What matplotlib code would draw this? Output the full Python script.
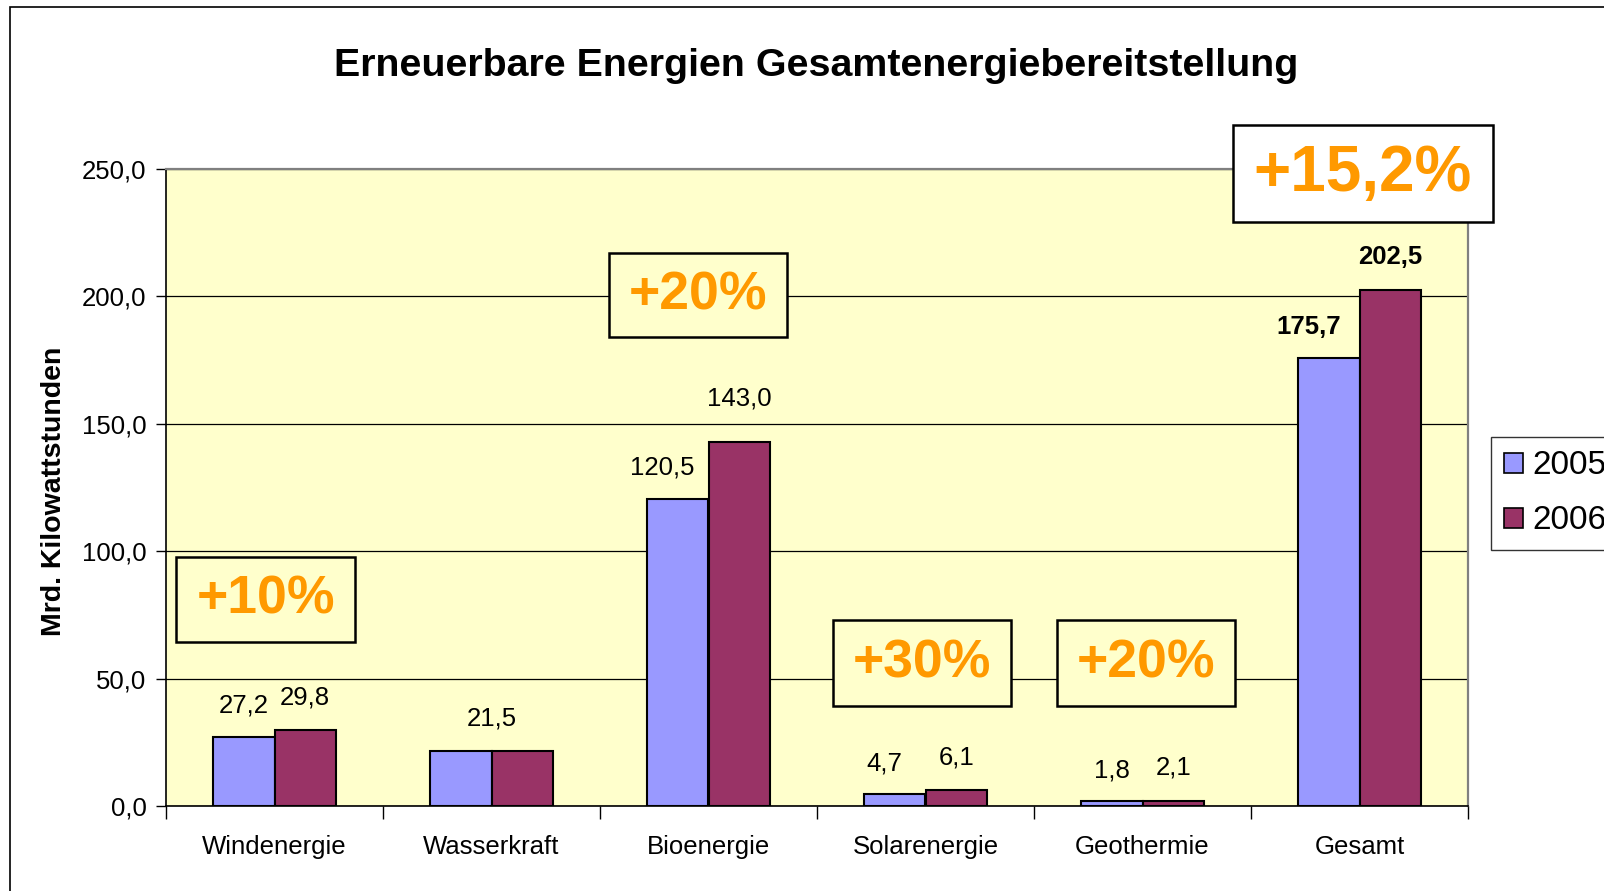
import numpy as np
import matplotlib
matplotlib.use("Agg")
import matplotlib.pyplot as plt
from matplotlib.patches import Rectangle, Patch
from matplotlib.ticker import FuncFormatter, FixedLocator

plt.rcParams['font.family'] = ['Liberation Sans', 'DejaVu Sans']

# data
categories = ['Windenergie', 'Wasserkraft', 'Bioenergie', 'Solarenergie', 'Geothermie', 'Gesamt']
years = ['2005', '2006']
values_2005 = [27.2, 21.5, 120.5, 4.7, 1.8, 175.7]
values_2006 = [29.8, 21.5, 143.0, 6.1, 2.1, 202.5]
growth_labels = ['+10%', '+20%', '+30%', '+20%', '+15,2%']
growth_categories = ['Windenergie', 'Bioenergie', 'Solarenergie', 'Geothermie', 'Gesamt']

title = 'Erneuerbare Energien Gesamtenergiebereitstellung'
ylabel = 'Mrd. Kilowattstunden'

c2005 = '#9999FF'
c2006 = '#993366'
orange = '#FF9900'
plot_bg = '#FFFFCC'


def de_fmt(v, pos=None):
    return f'{v:.1f}'.replace('.', ',')


W, H = 1604, 891
fig = plt.figure(figsize=(W / 100, H / 100), dpi=100)
fig.patch.set_facecolor('white')

# outer chart border (only top/left visible, rest cut off)
fig.patches.append(Rectangle((10 / W, -0.2), 1.5, 1 - 7 / H + 0.2, transform=fig.transFigure,
                             fill=False, edgecolor='black', linewidth=1.2))

ax = fig.add_axes([166 / W, 1 - 806 / H, 1302 / W, 637 / H])
ax.set_facecolor(plot_bg)

x = np.arange(len(categories)) + 0.5
w = 0.283
bars1 = ax.bar(x - w / 2, values_2005, w, color=c2005, edgecolor='black', linewidth=1.5, zorder=3)
bars2 = ax.bar(x + w / 2, values_2006, w, color=c2006, edgecolor='black', linewidth=1.5, zorder=3)

ax.set_xlim(0, len(categories))
ax.set_ylim(0, 250)

# value labels (small manual nudges like in the original)
nudge_2005 = {'Bioenergie': -16, 'Solarenergie': -10, 'Gesamt': -20}
nudge_2006_y = {'Bioenergie': 10}
for i, cat in enumerate(categories):
    weight = 'bold' if cat == 'Gesamt' else 'normal'
    v1, v2 = values_2005[i], values_2006[i]
    if v1 == v2:
        ax.annotate(de_fmt(v1), (x[i], v1), xytext=(0, 33), textcoords='offset pixels',
                    ha='center', va='center', fontsize=18.5, fontweight=weight, zorder=6)
        continue
    ax.annotate(de_fmt(v1), (x[i] - w / 2, v1), xytext=(nudge_2005.get(cat, 0), 31),
                textcoords='offset pixels', ha='center', va='center', fontsize=18.5,
                fontweight=weight, zorder=6)
    ax.annotate(de_fmt(v2), (x[i] + w / 2, v2), xytext=(0, 33 + nudge_2006_y.get(cat, 0)),
                textcoords='offset pixels', ha='center', va='center', fontsize=18.5,
                fontweight=weight, zorder=6)

# y axis
ax.set_yticks(np.arange(0, 251, 50))
ax.yaxis.set_major_formatter(FuncFormatter(de_fmt))
ax.tick_params(axis='y', direction='out', length=7, width=1, pad=7, labelsize=18.5)
ax.yaxis.grid(True, color='black', linewidth=0.9)
ax.set_axisbelow(True)

# x axis: ticks at boundaries, labels at centers
ax.xaxis.set_major_locator(FixedLocator(np.arange(0, len(categories) + 1)))
ax.xaxis.set_major_formatter(plt.NullFormatter())
ax.xaxis.set_minor_locator(FixedLocator(x))
ax.set_xticklabels(categories, minor=True)
ax.tick_params(axis='x', which='major', direction='out', length=9, width=1)
ax.tick_params(axis='x', which='minor', length=0, pad=21, labelsize=18.5)

for s in ['left', 'bottom']:
    ax.spines[s].set_color('black')
    ax.spines[s].set_linewidth(1.2)
for s in ['top', 'right']:
    ax.spines[s].set_color('#808080')
    ax.spines[s].set_linewidth(1.6)

# growth boxes: (x center, y center, width, height, fontsize, fill) in data units
box_layout = [
    (0.459, 81.0, 0.825, 33.4, 38.5, plot_bg),
    (2.452, 200.4, 0.82, 33.0, 38.5, plot_bg),
    (3.484, 56.1, 0.82, 33.6, 38.5, plot_bg),
    (4.516, 56.1, 0.82, 33.6, 38.5, plot_bg),
    (5.516, 248.2, 1.198, 38.0, 46, 'white'),
]
for lab, (cx, cy, bw, bh, fs, fc) in zip(growth_labels, box_layout):
    ax.add_patch(Rectangle((cx - bw / 2, cy - bh / 2), bw, bh, facecolor=fc,
                           edgecolor='black', linewidth=1.8, zorder=7, clip_on=False))
    ax.text(cx, cy, lab, ha='center', va='center', color=orange, fontsize=fs,
            fontweight='bold', zorder=8, clip_on=False)

# title and y label
fig.text(816 / W, 1 - 66 / H, title, ha='center', va='center', fontsize=28.4, fontweight='bold')
fig.text(54 / W, 1 - 491 / H, ylabel, ha='center', va='center', rotation=90,
         fontsize=20.5, fontweight='bold')

# legend (runs off the right edge like in the original)
handles = [Patch(facecolor=c2005, edgecolor='black', linewidth=1.2),
           Patch(facecolor=c2006, edgecolor='black', linewidth=1.2)]
leg = fig.legend(handles, years, loc='upper left', bbox_to_anchor=(1491 / W, 1 - 437 / H),
                 fontsize=24, frameon=True, fancybox=False, borderpad=0.4,
                 handlelength=0.55, handleheight=0.55, handletextpad=0.3,
                 labelspacing=0.72, borderaxespad=0)
leg.get_frame().set_edgecolor('black')
leg.get_frame().set_linewidth(1.0)

fig.savefig('out.png', dpi=100)
